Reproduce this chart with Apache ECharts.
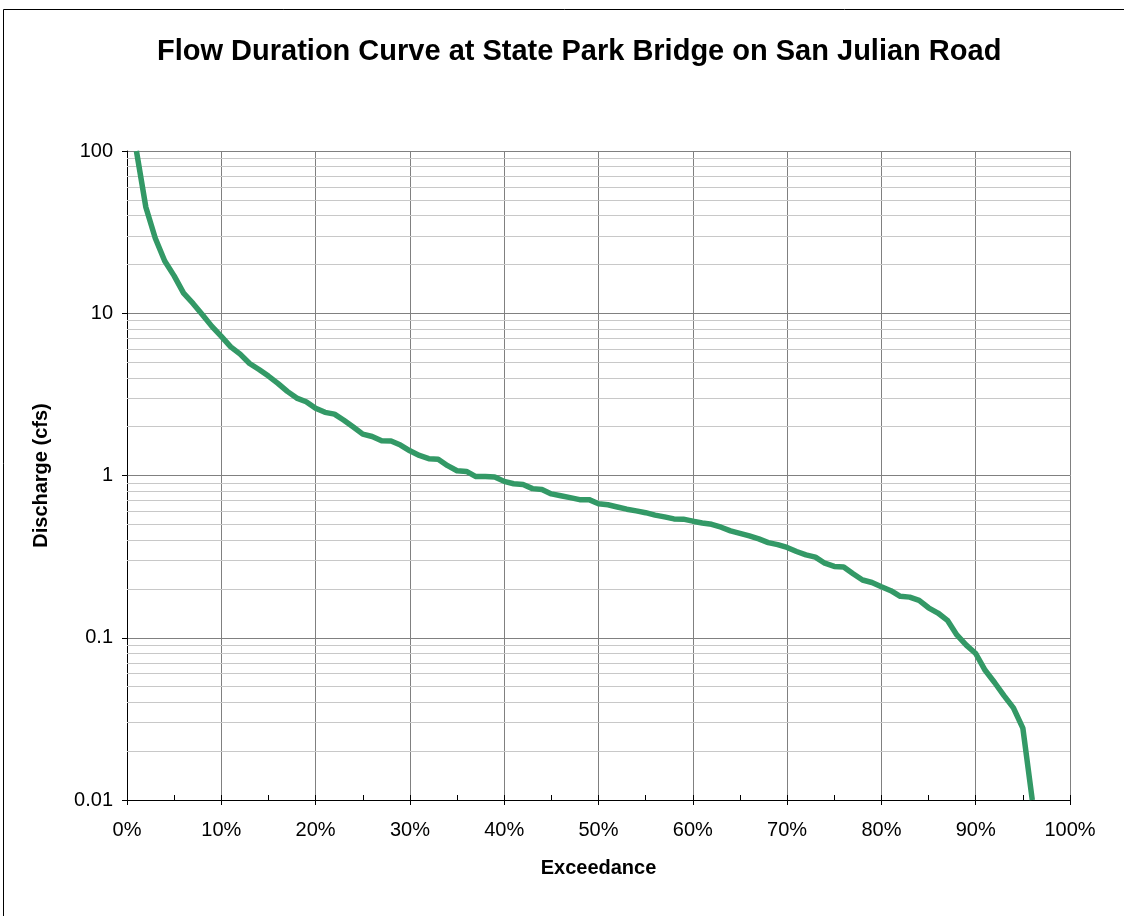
<!DOCTYPE html>
<html>
<head>
<meta charset="utf-8">
<script src="https://cdn.jsdelivr.net/npm/echarts@6/dist/echarts.min.js"></script>
<style>
html,body{margin:0;padding:0;background:#fff;}
#chart{width:1124px;height:916px;}
</style>
</head>
<body>
<div id="chart"></div>
<script>
const titleText = 'Flow Duration Curve at State Park Bridge on San Julian Road';
const xAxisName = 'Exceedance';
const yAxisName = 'Discharge (cfs)';

const exceedance = [1,2,3,4,5,6,7,8,9,10,11,12,13,14,15,16,17,18,19,20,
  21,22,23,24,25,26,27,28,29,30,31,32,33,34,35,36,37,38,39,40,
  41,42,43,44,45,46,47,48,49,50,51,52,53,54,55,56,57,58,59,60,
  61,62,63,64,65,66,67,68,69,70,71,72,73,74,75,76,77,78,79,80,
  81,82,83,84,85,86,87,88,89,90,91,92,93,94,95,96];

const discharge = [100,45,29,21,17,13.3,11.5,9.8,8.3,7.2,
  6.2,5.6,4.9,4.5,4.1,3.7,3.3,3.0,2.85,2.6,
  2.45,2.39,2.19,1.99,1.80,1.74,1.64,1.63,1.54,1.42,
  1.33,1.27,1.26,1.15,1.07,1.06,0.985,0.985,0.98,0.92,
  0.89,0.88,0.83,0.82,0.77,0.75,0.73,0.71,0.71,0.67,
  0.66,0.64,0.62,0.605,0.59,0.57,0.556,0.54,0.538,0.523,
  0.51,0.50,0.48,0.456,0.44,0.424,0.407,0.386,0.375,0.36,
  0.34,0.324,0.314,0.288,0.275,0.273,0.248,0.227,0.219,0.206,
  0.195,0.18,0.178,0.17,0.153,0.142,0.128,0.104,0.090,0.080,
  0.063,0.053,0.044,0.037,0.0277,0.01];

const yTickLabels = ['0.01','0.1','1','10','100'];
const decades = [0.01, 0.1, 1, 10];
const minorMultipliers = [2,3,4,5,6,7,8,9];

const minorGridValues = [];
decades.forEach(d => minorMultipliers.forEach(m => minorGridValues.push(+(d*m).toPrecision(3))));

const FONT = '"Liberation Sans", Arial, sans-serif';

const chart = echarts.init(document.getElementById('chart'), null, {renderer:'canvas'});
chart.setOption({
  animation: false,
  backgroundColor: '#ffffff',
  title: {
    text: titleText,
    left: 152,
    top: 32,
    textStyle: {fontFamily: FONT, fontSize: 29, fontWeight: 'bold', color: '#000'}
  },
  graphic: [{
    type: 'rect',
    shape: {x: 3.5, y: 9.5, width: 1300, height: 1000},
    style: {fill: 'none', stroke: '#000', lineWidth: 1},
    silent: true, z: 100
  }],
  grid: {left: 127, top: 151, width: 943, height: 649, containLabel: false},
  xAxis: [{
    type: 'value', min: 0, max: 100, interval: 10,
    name: xAxisName, nameLocation: 'middle', nameGap: 58,
    nameTextStyle: {fontFamily: FONT, fontSize: 20, fontWeight: 'bold', color: '#000'},
    axisLine: {show: true, lineStyle: {color: '#000', width: 1}},
    axisTick: {show: true, inside: false, length: 5, lineStyle: {color: '#000'}},
    axisLabel: {formatter: '{value}%', margin: 20, fontFamily: FONT, fontSize: 20, color: '#000'},
    splitLine: {show: true, lineStyle: {color: '#808080', width: 1}}
  }, {
    type: 'value', min: 0, max: 100, interval: 5, position: 'bottom',
    axisLine: {show: false},
    axisTick: {show: true, inside: true, length: 5, lineStyle: {color: '#000'}},
    axisLabel: {show: false},
    splitLine: {show: false}
  }],
  yAxis: {
    type: 'log', logBase: 10, min: 0.01, max: 100,
    name: yAxisName, nameLocation: 'middle', nameGap: 76, nameRotate: 90,
    nameTextStyle: {fontFamily: FONT, fontSize: 20, fontWeight: 'bold', color: '#000'},
    axisLine: {show: true, lineStyle: {color: '#000', width: 1}},
    axisTick: {show: true, inside: false, length: 5, lineStyle: {color: '#000'}},
    axisLabel: {
      margin: 14, fontFamily: FONT, fontSize: 20, color: '#000',
      formatter: v => {
        const i = Math.round(Math.log10(v)) + 2;
        return yTickLabels[i] !== undefined ? yTickLabels[i] : '';
      }
    },
    splitLine: {show: true, lineStyle: {color: '#808080', width: 1}}
  },
  series: [{
    type: 'line',
    data: [],
    z: 1,
    silent: true,
    markLine: {
      silent: true,
      symbol: ['none','none'],
      label: {show: false},
      emphasis: {disabled: true},
      lineStyle: {color: '#c8c8c8', width: 1, type: 'solid'},
      data: minorGridValues.map(v => ({yAxis: v}))
    }
  }, {
    type: 'line',
    data: exceedance.map((x, i) => [x, discharge[i]]),
    showSymbol: false,
    symbol: 'none',
    z: 5,
    lineStyle: {color: '#339966', width: 5.5, join: 'round'},
    silent: true
  }]
});
</script>
</body>
</html>
